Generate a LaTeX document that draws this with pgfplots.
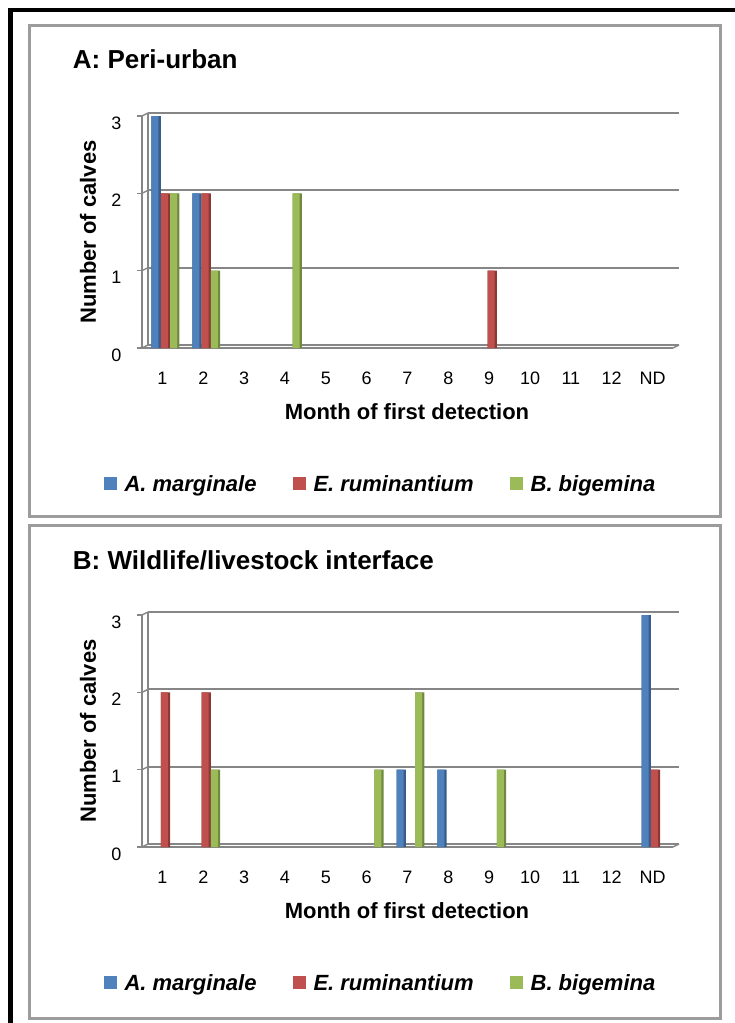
\documentclass[border=0pt]{standalone}
\usepackage{fontspec}
\setmainfont{Liberation Sans}
\usepackage{pgfplots}
\pgfplotsset{compat=1.18}

% Office-style series colours: face and shaded side of each column
\definecolor{amface}{HTML}{4F81BD}
\definecolor{amside}{HTML}{385D8A}
\definecolor{erface}{HTML}{C0504D}
\definecolor{erside}{HTML}{8C3836}
\definecolor{bbface}{HTML}{9BBB59}
\definecolor{bbside}{HTML}{71893F}
\definecolor{gridgray}{HTML}{868686}
\definecolor{boxgray}{HTML}{9C9C9C}

\newcommand\ticksize{\fontsize{18bp}{21bp}\selectfont}
\newcommand\labelsize{\fontsize{22bp}{26bp}\selectfont\bfseries}
\newcommand\legendsize{\fontsize{22bp}{26bp}\selectfont\bfseries\itshape}
\newcommand\titlesize{\fontsize{26bp}{30bp}\selectfont\bfseries}

\pgfplotsset{
  sq/.style={legend image code/.code={\fill[#1] (0bp,-6.5bp) rectangle (13bp,6.5bp);}},
  side/.style={ybar, forget plot, draw=none, fill=#1, bar width=9.3bp},
  face/.style={ybar, draw=none, fill=#1, bar width=7bp, sq=#1},
  calves/.style={
    scale only axis, width=531bp, height=232bp,
    anchor=south west,
    xmin=-0.5, xmax=12.5, ymin=0, ymax=3,
    axis x line*=bottom, axis y line*=left,
    axis line style={gridgray, line width=1.5bp},
    ytick={0,1,2,3},
    xtick={0,...,12},
    xticklabels={1,2,3,4,5,6,7,8,9,10,11,12,ND},
    minor xtick={-0.5,0.5,...,12.5},
    xtick style={draw=none},
    minor x tick style={gridgray, line width=1.4bp},
    y tick style={gridgray, line width=1.4bp},
    tick align=outside,
    major tick length=5bp, minor tick length=6bp,
    ymajorgrids,
    grid style={gridgray, line width=2bp, xshift=6bp, yshift=3bp},
    /pgf/number format/assume math mode=true,
    ticklabel style={font=\ticksize, text=black},
    xticklabel style={anchor=north, text height=13bp, text depth=0bp, yshift=-15bp},
    yticklabel style={xshift=-12bp, yshift=-7bp},
    xlabel={Month of first detection},
    ylabel={Number of calves},
    label style={font=\labelsize},
    xlabel style={at={(axis description cs:0.499,-0.276)}, anchor=center},
    ylabel style={at={(axis description cs:-0.1017,0.5)}, anchor=center},
    legend columns=3,
    legend style={at={(axis description cs:0.449,-0.586)}, anchor=center,
      draw=none, fill=none, font=\legendsize,
      /tikz/every odd column/.style={column sep=6bp},
      /tikz/every even column/.style={column sep=34bp}},
    clip=false,
  },
  % receding left wall and floor edge of the 3-D frame
  wall/.code={
    \foreach \k in {0,1,2,3} {
      \edef\tmp{\noexpand\draw[gridgray, line width=1.4bp] (axis cs:-0.5,\k) -- ++(6bp,3bp);}\tmp
    }
    \draw[gridgray, line width=1.4bp] (axis cs:-0.5,0) ++(6bp,3bp) -- ++(0bp,232bp);
    \draw[gridgray, line width=1.4bp] (axis cs:12.5,0) -- ++(6bp,3bp);
  },
}

\begin{document}
\begin{tikzpicture}
\useasboundingbox (0,0) rectangle (735bp,-1023bp);
% outer frame
\fill[black] (8bp,-8bp) rectangle (735bp,-12bp);
\fill[black] (8bp,-8bp) rectangle (12.5bp,-1023bp);
% panel boxes
\draw[boxgray, line width=3bp] (29bp,-25bp) rectangle (720.5bp,-516.5bp);
\draw[boxgray, line width=3bp] (29bp,-525bp) rectangle (720.5bp,-1018.5bp);
% panel titles
\node[anchor=base west, inner sep=0pt, font=\titlesize] at (72.7bp,-68.3bp) {A: Peri-urban};
\node[anchor=base west, inner sep=0pt, font=\titlesize] at (72.7bp,-569bp) {B: Wildlife/livestock interface};

% ---- A: Peri-urban ----
\begin{axis}[calves, at={(142bp,-348bp)}]
  \pgfplotsset{wall}
  % A. marginale
  \addplot[side=amside, bar shift=-6.3bp] coordinates {(0,3) (1,2)};
  \addplot[face=amface, bar shift=-7.45bp] coordinates {(0,3) (1,2)};
  \addlegendentry{A. marginale}
  % E. ruminantium
  \addplot[side=erside, bar shift=3bp] coordinates {(0,2) (1,2) (8,1)};
  \addplot[face=erface, bar shift=1.85bp] coordinates {(0,2) (1,2) (8,1)};
  \addlegendentry{E. ruminantium}
  % B. bigemina
  \addplot[side=bbside, bar shift=12.3bp] coordinates {(0,2) (1,1) (3,2)};
  \addplot[face=bbface, bar shift=11.15bp] coordinates {(0,2) (1,1) (3,2)};
  \addlegendentry{B. bigemina}
\end{axis}

% ---- B: Wildlife/livestock interface ----
\begin{axis}[calves, at={(142bp,-847bp)}]
  \pgfplotsset{wall}
  % A. marginale
  \addplot[side=amside, bar shift=-6.3bp] coordinates {(6,1) (7,1) (12,3)};
  \addplot[face=amface, bar shift=-7.45bp] coordinates {(6,1) (7,1) (12,3)};
  \addlegendentry{A. marginale}
  % E. ruminantium
  \addplot[side=erside, bar shift=3bp] coordinates {(0,2) (1,2) (12,1)};
  \addplot[face=erface, bar shift=1.85bp] coordinates {(0,2) (1,2) (12,1)};
  \addlegendentry{E. ruminantium}
  % B. bigemina
  \addplot[side=bbside, bar shift=12.3bp] coordinates {(1,1) (5,1) (6,2) (8,1)};
  \addplot[face=bbface, bar shift=11.15bp] coordinates {(1,1) (5,1) (6,2) (8,1)};
  \addlegendentry{B. bigemina}
\end{axis}
\end{tikzpicture}
\end{document}
